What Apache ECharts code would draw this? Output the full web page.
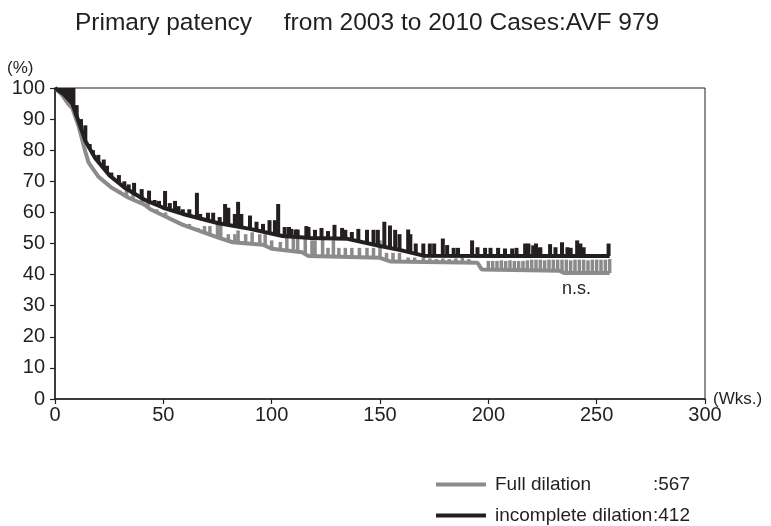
<!DOCTYPE html>
<html>
<head>
<meta charset="utf-8">
<script src="https://cdn.jsdelivr.net/npm/echarts@6/dist/echarts.min.js"></script>
<style>
html,body{margin:0;padding:0;background:#fff;}
#chart{width:771px;height:526px;}
</style>
</head>
<body>
<div id="chart"></div>
<script>
// ---- data ----
var titleText = 'Primary patency\u3000 from 2003 to 2010 Cases:AVF 979';
var xTicks = [0, 50, 100, 150, 200, 250, 300];
var yTicks = [0, 10, 20, 30, 40, 50, 60, 70, 80, 90, 100];

var fullName = 'Full dilation';
var fullCount = 567;
var incName = 'incomplete dilation';
var incCount = 412;

// survival curves [week, %]
var fullCurve = [[0,100],[3,98],[6,95],[8,93.5],[11,87.5],[14,79.5],[15.5,76],[20,71.5],[26,68],[34,64.7],[41.5,62.4],[44,61],[59,56],[75,52],[82,50.4],[96,49.6],[100,48.3],[114,47.2],[117,46],[150,45.4],[155,44.2],[195,43.8],[197,41.6],[233,41.2],[235,40.5],[256,40.5]];
var incCurve = [[0,100],[4,98],[8,95],[11,89],[14,83],[18.5,77.5],[25,72],[32,68],[41.5,64],[50,61.5],[59,59.5],[75,56.6],[90,54.7],[105,52.4],[118,51.8],[135,51.5],[150,49.2],[160,47.8],[170,46.1],[200,46],[256,46]];

// censor marks [week, top %]
var fullCensor = [[30,67],[33,68],[36,67],[40,65.5],[43,64],[47,61],[49,59.5],[51,60],[53,58],[56,56.6],[59,56.6],[62,56.3],[66,55],[69,55.6],[71.5,55.6],[75,56.3],[76.5,56.3],[80,53],[83,53],[84.5,54.2],[88,53],[91,53.6],[94.5,53],[97,53],[100,51],[104,50.5],[107,51.8],[110,51.8],[112,51.8],[115.5,51.5],[118.6,51],[120,51],[123.5,51.5],[126,48.6],[128.5,51],[131,48.6],[134,48.6],[137,48.6],[140.5,48.6],[144,48.6],[147,48.6],[150,51],[153,47],[156,47],[159,47],[163,45.5],[166,45.5],[170,45.5],[173,45.2],[176,45],[179,45.2],[182,45],[185,45.2],[188,45.5],[191,45],[200,44.4],[202,44.4],[204,44.4],[206,44.6],[208,44.4],[210,44.6],[212,44.4],[214,44.4],[216,44.4],[218,44.6],[220,44.8],[222,44.8],[224,44.8],[226,44.6],[228,44.8],[230,44.8],[232,44.8],[234,44.8],[236,44.8],[238,44.6],[240,44.8],[242,44.8],[244,44.8],[246,44.6],[248,44.8],[250,44.8],[252,44.8],[254,44.8],[256,45]];
var incCensor = [[0.5,100],[1.5,100],[2.5,100],[3.5,100],[4.5,100],[5.5,100],[6.5,100],[7.5,100],[8.5,100],[10,94.5],[12,90],[14,88],[16,82],[17.5,80],[20,78.5],[22.5,77],[24,75],[26,72.8],[29.5,72],[32,70],[34,69],[36.5,69.5],[40,67.5],[43.4,67],[46,64],[48,63.7],[50.8,66.9],[53,63],[55.4,63.7],[57,62],[59,61],[62,61],[65.5,66.3],[67,59.5],[70.6,59.9],[73,59.9],[76,58.5],[78.5,62.7],[80,61.5],[83,59.5],[84.5,63.4],[86,59.5],[90,59],[93,57],[96,56.3],[99,57.5],[101.5,57.5],[103,62.7],[106,55.3],[108,55.3],[109,54.7],[111,54.5],[112,54.5],[116,55.6],[117,55.3],[120,54.4],[123,55],[126,54],[129,56],[132.5,55],[134,54.4],[137,53.7],[140,54.7],[144,54.4],[147,54.4],[149,54.4],[152,57],[154.6,55.8],[157,54.4],[159,53],[163,54.5],[164,53],[166.5,50],[170,50],[173,50],[175,50],[179,51.6],[181,49.5],[184,48.6],[186,48.6],[192.5,51],[195,48.8],[198.5,48.6],[201,48.6],[204.5,48.6],[207.7,48.4],[211,48.4],[213,48.6],[217,50],[218.5,50],[220.7,49.4],[222,50],[223,48.6],[224,48.8],[228.5,49.8],[231,48.8],[234,50.4],[236.5,48.8],[238,48.6],[241,51],[242.5,50],[244,48.8],[255.5,50]];

var nsText = 'n.s.';

// ---- helpers ----
function curveAt(curve, w) {
  for (var i = 1; i < curve.length; i++) {
    if (w <= curve[i][0]) {
      var a = curve[i-1], b = curve[i];
      var t = (w - a[0]) / (b[0] - a[0]);
      return a[1] + t * (b[1] - a[1]);
    }
  }
  return curve[curve.length-1][1];
}
function censorData(marks, curve) {
  return marks.map(function (m) { return [m[0], m[1], curveAt(curve, m[0])]; });
}
function spikeRenderer(color, width) {
  return function (params, api) {
    var w = api.value(0), top = api.value(1), base = api.value(2);
    var p1 = api.coord([w, top]);
    var p2 = api.coord([w, base]);
    return {
      type: 'rect',
      shape: { x: p1[0] - width / 2, y: p1[1], width: width, height: Math.max(0, p2[1] - p1[1]) },
      style: { fill: color }
    };
  };
}

var GRAY = '#8b8b8b';
var BLACK = '#231f20';
var FONT = 'Liberation Sans, Arial, sans-serif';
var counts = {};
counts[fullName] = fullCount;
counts[incName] = incCount;

var chart = echarts.init(document.getElementById('chart'), null, { renderer: 'canvas' });
chart.setOption({
  animation: false,
  backgroundColor: '#fff',
  title: {
    text: titleText,
    left: 75, top: 11, padding: 0,
    textStyle: { fontFamily: FONT, fontSize: 24.5, fontWeight: 'normal', color: '#231f20' }
  },
  grid: {
    left: 55, right: 66, top: 88, bottom: 127,
    outerBoundsMode: 'none', containLabel: false,
    show: true, borderColor: '#231f20', borderWidth: 1, backgroundColor: 'transparent'
  },
  legend: {
    orient: 'vertical',
    left: 436, top: 475,
    padding: 0,
    itemWidth: 50, itemHeight: 4, itemGap: 12,
    icon: 'rect',
    data: [fullName, incName],
    formatter: function (name) { return '{n|' + name + '}{c|:' + counts[name] + '}'; },
    textStyle: {
      fontFamily: FONT, fontSize: 19, color: '#231f20',
      rich: {
        n: { fontFamily: FONT, fontSize: 19, width: 158, padding: [0, 0, 0, 4], color: '#231f20' },
        c: { fontFamily: FONT, fontSize: 19, color: '#231f20' }
      }
    }
  },
  xAxis: {
    type: 'value', min: 0, max: 300, interval: 50,
    name: '(Wks.)', nameLocation: 'end', nameGap: 8, nameMoveOverlap: false,
    nameTextStyle: { fontFamily: FONT, fontSize: 17, color: '#231f20', verticalAlign: 'middle', padding: [0, 0, 10, 0] },
    axisLine: { lineStyle: { color: '#231f20', width: 1.5 } },
    axisTick: { show: true, length: 5, inside: false, lineStyle: { color: '#231f20', width: 1.2 } },
    axisLabel: { fontFamily: FONT, fontSize: 20, color: '#231f20', margin: 6,
      formatter: function (v) { return xTicks.indexOf(v) >= 0 ? String(v) : ''; } },
    splitLine: { show: false }
  },
  yAxis: {
    type: 'value', min: 0, max: 100, interval: 10,
    axisLine: { show: true, lineStyle: { color: '#231f20', width: 1.5 } },
    axisTick: { show: true, length: 5, lineStyle: { color: '#231f20', width: 1.2 } },
    axisLabel: { fontFamily: FONT, fontSize: 20, color: '#231f20', margin: 10,
      formatter: function (v) { return yTicks.indexOf(v) >= 0 ? String(v) : ''; } },
    splitLine: { show: false }
  },
  graphic: [
    { type: 'text', left: 7, top: 60, style: { text: '(%)', font: '17px ' + FONT, fill: '#231f20' } },
    { type: 'text', left: 562, top: 280, style: { text: nsText, font: '18px ' + FONT, fill: '#231f20' } }
  ],
  series: [
    {
      name: fullName, type: 'line', data: fullCurve, showSymbol: false, symbol: 'none',
      lineStyle: { color: GRAY, width: 4 }, itemStyle: { color: GRAY }, z: 2
    },
    {
      name: 'fullCensor', type: 'custom', data: censorData(fullCensor, fullCurve),
      dimensions: ['w', 'top', 'base'], encode: { x: 0, y: 1 },
      renderItem: spikeRenderer(GRAY, 3.5), z: 3
    },
    {
      name: 'incCensor', type: 'custom', data: censorData(incCensor, incCurve),
      dimensions: ['w', 'top', 'base'], encode: { x: 0, y: 1 },
      renderItem: spikeRenderer(BLACK, 4), z: 4
    },
    {
      name: incName, type: 'line', data: incCurve, showSymbol: false, symbol: 'none',
      lineStyle: { color: BLACK, width: 4 }, itemStyle: { color: BLACK }, z: 5
    }
  ]
});
</script>
</body>
</html>
